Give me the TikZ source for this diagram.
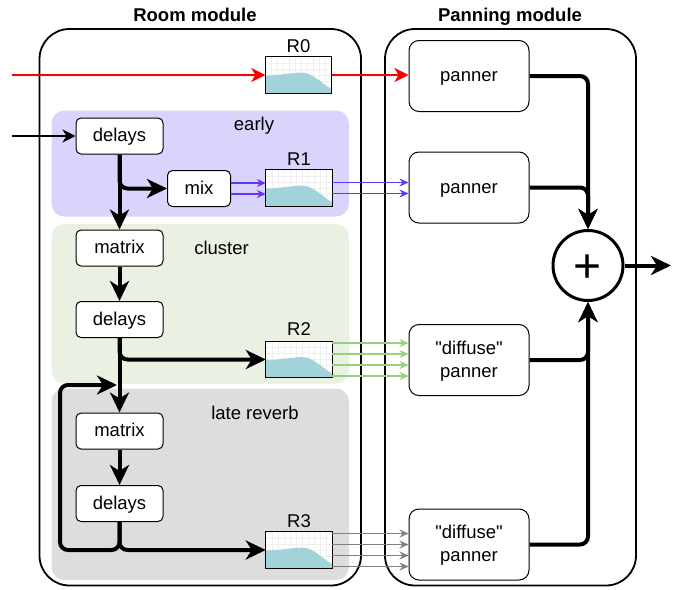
\documentclass[tikz,border=0pt]{standalone}
\usepackage{fontspec}
\setmainfont{Liberation Sans}[Ligatures=TeXOff]
\usetikzlibrary{arrows.meta,calc}

\definecolor{earlyfill}{RGB}{218,211,251}
\definecolor{clusterfill}{RGB}{233,241,226}
\definecolor{latefill}{RGB}{221,221,221}
\definecolor{plotfill}{RGB}{161,211,216}
\definecolor{plotgrid}{RGB}{240,240,240}
\definecolor{purpleline}{RGB}{102,51,255}
\definecolor{greenline}{RGB}{155,204,128}
\definecolor{grayline}{RGB}{128,128,128}

\tikzset{
  module/.style={draw, line width=1.8pt, rounded corners=30pt},
  grouparea/.style={rounded corners=13pt},
  blk/.style={draw, fill=white, line width=1pt, rounded corners=5pt,
    minimum width=87pt, minimum height=36pt, inner sep=0pt,
    text height=12pt, text depth=0.6pt},
  pan/.style={blk, rounded corners=10pt, minimum width=120pt,
    minimum height=71pt, align=center},
  pantwo/.style={pan, text height=35pt, text depth=0.6pt},
  resp/.style={minimum width=66pt, minimum height=36pt, inner sep=0pt, fill=white},
  respborder/.style={draw, line width=1pt},
  sumc/.style={draw, circle, line width=3pt, minimum size=70pt, inner sep=0pt},
  lbl/.style={anchor=base},
  title/.style={anchor=base, font=\fontsize{18.5}{22}\selectfont\bfseries},
  thk/.style={line width=4pt, rounded corners=8pt,
    -{Stealth[length=20pt,width=19pt,inset=6pt]}},
  thinblack/.style={line width=2pt, -{Stealth[length=13pt,width=13pt,inset=4pt]}},
  redarr/.style={red, line width=2pt, -{Stealth[length=14pt,width=14pt,inset=4pt]}},
  chan/.style={line width=1.3pt, -{Stealth[length=9pt,width=8pt,inset=3pt]}},
}

\begin{document}
\begin{tikzpicture}[x=1pt, y=-1pt, every node/.append style={font=\fontsize{18.5}{23}\selectfont}]
  \useasboundingbox (0,0) rectangle (688,589);
  \fill[white] (0,0) rectangle (688,589);

  % module frames
  \draw[module] (39.5,29) rectangle (361,585.5);
  \draw[module] (385,29) rectangle (636,585.5);
  \node[title] (tRoom) at (195,21) {Room module};
  \node[title] (tPan) at (510,21) {Panning module};

  % stage areas
  \fill[grouparea, earlyfill] (51.5,110.5) rectangle (349,216.5);
  \fill[grouparea, clusterfill] (51.5,224) rectangle (349,383.5);
  \fill[grouparea, latefill] (51.5,388.5) rectangle (349,580);
  \node[lbl] (tEarly) at (254,130) {early};
  \node[lbl] (tCluster) at (221.5,254) {cluster};
  \node[lbl] (tLate) at (255,419) {late reverb};

  % processing blocks
  \node[blk] (D1) at (119.5,136) {delays};
  \node[blk, minimum width=63pt] (Mix) at (199,188.5) {mix};
  \node[blk] (M1) at (119.5,248) {matrix};
  \node[blk] (D2) at (119.5,319.5) {delays};
  \node[blk] (M2) at (119.5,431) {matrix};
  \node[blk] (D3) at (119.5,503.5) {delays};

  % response plots: faint grid, filled decay curve, frame
  \node[resp] (R0) at (298.5,75) {};
  \node[resp] (R1) at (299,188) {};
  \node[resp] (R2) at (299,359.5) {};
  \node[resp] (R3) at (299,550) {};
  \foreach \r in {R0,R1,R2,R3} {
    \begin{scope}[shift={(\r.north west)}]
      \foreach \g in {6,12,...,60} {\draw[plotgrid, line width=0.5pt] (\g,0) -- (\g,36);}
      \foreach \g in {6,12,...,30} {\draw[plotgrid, line width=0.5pt] (0,\g) -- (66,\g);}
      \fill[plotfill] (0,18.7) .. controls (15,18.5) and (25,16.2) .. (36,15.8)
        .. controls (46,15.5) and (55,25) .. (66,32.5) -- (66,36) -- (0,36) -- cycle;
    \end{scope}
    \draw[respborder] (\r.north west) rectangle (\r.south east);
  }
  \node[lbl] (tR0) at (298.5,52) {R0};
  \node[lbl] (tR1) at (299,165) {R1};
  \node[lbl] (tR2) at (299,335) {R2};
  \node[lbl] (tR3) at (299,527) {R3};

  % panners and summing junction
  \node[pan] (P1) at (469,76) {panner};
  \node[pan] (P2) at (469,187.5) {panner};
  \node[pantwo] (P3) at (469,360) {"diffuse"\\panner};
  \node[pantwo] (P4) at (469,544.5) {"diffuse"\\panner};
  \node[sumc] (Sum) at (588,265.5) {};
  \node[anchor=base, font=\fontsize{48}{48}\selectfont] (plus) at ([yshift=-17pt]Sum.center) {+};

  % inputs
  \coordinate (inR) at (12,75);
  \coordinate (inD) at (12,136);
  \draw[redarr] (inR) -- (R0.west);
  \draw[redarr] (R0.east) -- (R0.east -| P1.west);
  \draw[thinblack] (inD) -- (D1.west);

  % signal flow through the room
  \draw[thk] (D1.south) -- (M1.north);
  \draw[thk] (D1.south) |- (Mix.west);
  \draw[thk] (M1.south) -- (D2.north);
  \draw[thk] (D2.south) -- (M2.north);
  \draw[thk] (D2.south) |- (R2.west);
  \draw[thk] (M2.south) -- (D3.north);
  \draw[thk] (D3.south) |- (R3.west);
  \coordinate (fbC) at (60,550);
  \coordinate (fbT) at (117,385);
  \draw[thk] (D3.south) |- (fbC) |- (fbT);

  % channel bundles
  \foreach \o in {5.5,-5.5} {
    \draw[chan, purpleline] ([yshift=\o pt]Mix.east) -- ([yshift=\o pt]Mix.east -| R1.west);
    \draw[chan, purpleline] ([yshift=\o pt]R1.east) -- ([yshift=\o pt]R1.east -| P2.west);
  }
  \foreach \o in {16.5,5.5,-5.5,-16.5} {
    \draw[chan, greenline] ([yshift=\o pt]R2.east) -- ([yshift=\o pt]R2.east -| P3.west);
    \draw[chan, grayline] ([yshift=\o pt]R3.east) -- ([yshift=\o pt]R3.east -| P4.west);
  }

  % panning outputs
  \draw[thk] (P1.east) -| (Sum.north);
  \draw[thk] (P2.east) -| (Sum.north);
  \draw[thk] (P3.east) -| (Sum.south);
  \draw[thk] (P4.east) -| (Sum.south);
  \coordinate (out) at (671,265.5);
  \draw[thk] (Sum.east) -- (out);
\end{tikzpicture}
\end{document}
